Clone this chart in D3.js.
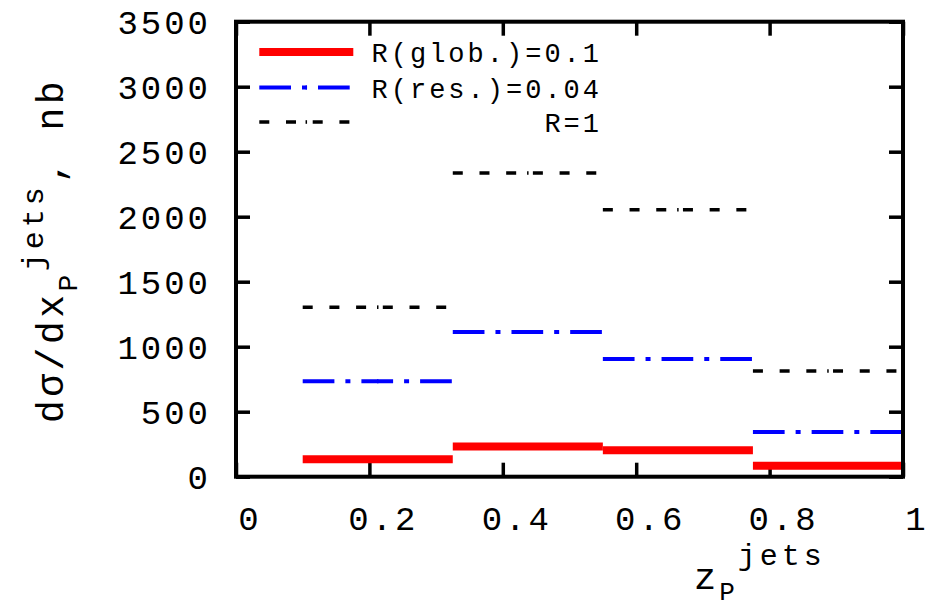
<!DOCTYPE html>
<html>
<head>
<meta charset="utf-8">
<script src="https://cdn.jsdelivr.net/npm/d3@7"></script>
<style>
  body { margin: 0; background: #fff; }
  svg { display: block; }
  text { font-family: "Liberation Mono", "DejaVu Sans Mono", monospace; fill: #000; }
</style>
</head>
<body>
<svg id="chart" width="932" height="608"></svg>
<script>
// bins in z_P^jets
const binLo = [0.1, 0.325, 0.55, 0.775]
const binHi = [0.325, 0.55, 0.775, 1.0]

// dsigma/dx, nb
const globVals = [135, 232, 203, 84]
const resVals = [734, 1113, 905, 344]
const r1Vals = [1304, 2336, 2054, 813]

const seriesNames = ['R(glob.)=0.1', 'R(res.)=0.04', 'R=1']
const xTicks = [0, 0.2, 0.4, 0.6, 0.8, 1]
const yTicks = [0, 500, 1000, 1500, 2000, 2500, 3000, 3500]

const W = 932, H = 608
const mLeft = 236, mRight = 903, mTop = 21.7, mBottom = 476.7

const svg = d3.select('#chart')
svg.append('rect').attr('width', W).attr('height', H).attr('fill', '#fff')

const x = d3.scaleLinear().domain([0, 1]).range([mLeft, mRight])
const y = d3.scaleLinear().domain([0, 3500]).range([mBottom, mTop])

const series = [
  { name: seriesNames[0], vals: globVals, color: '#ff0000', width: 8, dash: null },
  { name: seriesNames[1], vals: resVals, color: '#0000ff', width: 4, dash: '31.7,11,5,11' },
  { name: seriesNames[2], vals: r1Vals, color: '#000000', width: 3.6, dash: '10,16.7' },
]

//
// axes (ticks point inward, mirrored on top/right)
//
const TICK = 14

function styleAxis(g) {
  g.select('.domain').remove()
  g.selectAll('.tick line').attr('stroke', '#000').attr('stroke-width', 3.5)
}

const gx = svg.append('g')
  .attr('transform', `translate(0,${mBottom})`)
  .call(d3.axisBottom(x).tickValues(xTicks).tickSize(-TICK).tickFormat(d3.format('')))
  .call(styleAxis)
gx.selectAll('text')
  .attr('y', 53).attr('dy', 0)
  .attr('dx', 13.5)
  .style('font-size', '34px')
  .style('letter-spacing', '3px')

svg.append('g')
  .attr('transform', `translate(0,${mTop})`)
  .call(d3.axisTop(x).tickValues(xTicks).tickSize(-TICK).tickFormat(''))
  .call(styleAxis)

const gy = svg.append('g')
  .attr('transform', `translate(${mLeft},0)`)
  .call(d3.axisLeft(y).tickValues(yTicks).tickSize(-TICK).tickFormat(d3.format('')))
  .call(styleAxis)
gy.selectAll('text')
  .attr('x', -25).attr('dy', '0.36em')
  .style('font-size', '34px')
  .style('letter-spacing', '3px')

svg.append('g')
  .attr('transform', `translate(${mRight},0)`)
  .call(d3.axisRight(y).tickValues(yTicks).tickSize(-TICK).tickFormat(''))
  .call(styleAxis)

//
// histogram steps
//
const plot = svg.append('g')

series.forEach((s) => {
  const g = plot.append('g')
  s.vals.forEach((v, i) => {
    g.append('line')
      .attr('x1', x(binLo[i])).attr('x2', x(binHi[i]))
      .attr('y1', y(v)).attr('y2', y(v))
      .attr('stroke', s.color)
      .attr('stroke-width', s.width)
      .attr('stroke-dasharray', s.dash)
  })
  // small vertex marks at bin centres (visible in the dash gaps)
  if (s.dash) {
    s.vals.forEach((v, i) => {
      const cx = x((binLo[i] + binHi[i]) / 2)
      g.append('line')
        .attr('x1', cx).attr('x2', cx)
        .attr('y1', y(v) - s.width / 2).attr('y2', y(v) + s.width / 2)
        .attr('stroke', s.color).attr('stroke-width', 1.5)
    })
  }
})

// frame
svg.append('rect')
  .attr('x', mLeft).attr('y', mTop)
  .attr('width', mRight - mLeft).attr('height', mBottom - mTop)
  .attr('fill', 'none').attr('stroke', '#000').attr('stroke-width', 4)

//
// legend
//
const legend = svg.append('g')
const legY = [52, 87.5, 122]
series.forEach((s, i) => {
  legend.append('line')
    .attr('x1', 259.3).attr('x2', 353.3)
    .attr('y1', legY[i]).attr('y2', legY[i])
    .attr('stroke', s.color)
    .attr('stroke-width', s.width)
    .attr('stroke-dasharray', s.dash)
  if (s.dash) {
    legend.append('line')
      .attr('x1', 306.3).attr('x2', 306.3)
      .attr('y1', legY[i] - s.width / 2).attr('y2', legY[i] + s.width / 2)
      .attr('stroke', s.color).attr('stroke-width', 1.5)
  }
  legend.append('text')
    .attr('x', 602).attr('y', legY[i] + 10)
    .attr('text-anchor', 'end')
    .style('font-size', '27px')
    .style('letter-spacing', '3px')
    .text(s.name)
})

//
// axis titles
//
const yt = svg.append('text')
  .attr('transform', 'translate(63,423) rotate(-90)')
  .style('font-size', '38px')
  .style('letter-spacing', '3.5px')
yt.append('tspan').text('dσ/dx')
yt.append('tspan').attr('dy', 14).style('font-size', '28px').text('P')
yt.append('tspan').attr('dy', -34).style('font-size', '30px').style('letter-spacing', '4px').text('jets')
yt.append('tspan').attr('dy', 20).text(', nb')

const xt = svg.append('text')
  .attr('x', 694).attr('y', 589)
  .style('font-size', '37px')
  .style('letter-spacing', '3px')
xt.append('tspan').text('z')
xt.append('tspan').attr('dy', 11).style('font-size', '26px').text('P')
xt.append('tspan').attr('dy', -35).style('font-size', '30px').style('letter-spacing', '4px').text('jets')
</script>
</body>
</html>
